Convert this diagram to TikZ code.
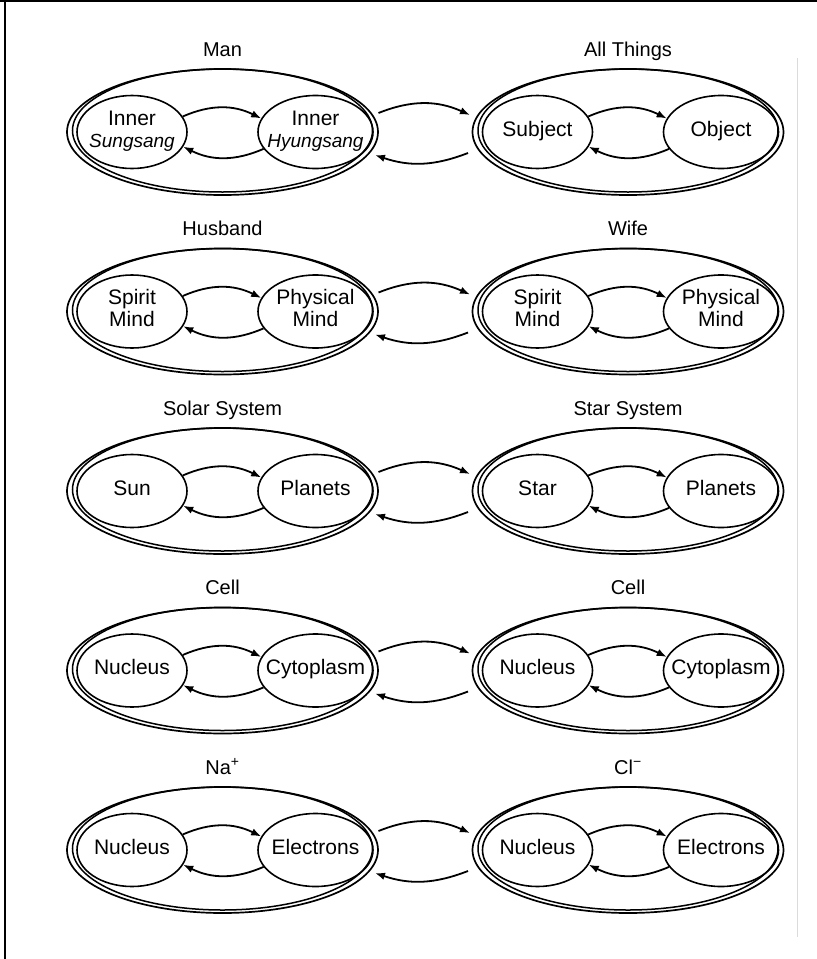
\documentclass[tikz,border=0pt]{standalone}
\usepackage{fontspec}
\setmainfont{Liberation Sans}
\usetikzlibrary{shapes.geometric,arrows.meta,calc}
\tikzset{
 outerell/.style={ellipse, draw, line width=1.7pt, minimum width=311pt, minimum height=126pt, inner sep=0pt},
 ringell/.style={ellipse, draw, line width=1.5pt, minimum width=300pt, minimum height=123pt, inner sep=0pt},
 inL/.style={ellipse, draw, line width=1.6pt, minimum width=110pt, minimum height=73pt, inner sep=0pt},
 inR/.style={inL, minimum width=115pt},
 intext/.style={align=center, inner sep=0pt, font=\fontsize{21}{22}\selectfont},
 lab/.style={anchor=base, inner sep=0pt, font=\fontsize{20}{22}\selectfont},
 arr/.style={-{Latex[length=10pt,width=7.5pt]}, line width=1.8pt},
 frameline/.style={line width=2.5pt},
}
\newcommand\pairgroup[6]{%
 \node[outerell] (#1o) at (#2,#3) {};
 \node[ringell] (#1r) at ($(#1o.center)+(0,1.5)$) {};
 \node[lab] (#1t) at ($(#1o.center)+(0,76)$) {#4};
 \node[inL] (#1a) at ($(#1o.center)+(-90.5,0)$) {};
 \node[inR] (#1b) at ($(#1o.center)+(93,0)$) {};
 \node[intext] (#1x) at (#1a.center) {#5};
 \node[intext] (#1y) at (#1b.center) {#6};
 \draw[arr] (#1a.17) to[bend left=25] (#1b.166);
 \draw[arr] (#1b.198) to[bend left=25] (#1a.-16);
}
\newcommand\linkgroups[2]{%
 \draw[arr] ($(#1o.center)+(156,19)$) to[bend left=23] ($(#2o.center)+(-158,17)$);
 \draw[arr] ($(#2o.center)+(-160,-21)$) to[bend left=20] ($(#1o.center)+(152.5,-23)$);
}
\newcommand\smallit[1]{{\fontsize{19}{22}\selectfont\textit{#1}}}
\begin{document}
\begin{tikzpicture}[x=1pt,y=1pt]
\useasboundingbox (0,0) rectangle (817,-959);
\fill[white] (0,0) rectangle (817,-959);
\draw[frameline] (5,0) -- (5,-959);
\draw[frameline] (0,-1) -- (817,-1);
\draw[red!20, line width=1pt] (797,-58) -- (797,-937);

\pairgroup{A}{222.5}{-132}{Man}{\strut Inner\\\strut\smallit{Sungsang}}{\strut Inner\\\strut\smallit{Hyungsang}}
\pairgroup{B}{628}{-132}{All Things}{\strut Subject}{\strut Object}
\linkgroups{A}{B}

\pairgroup{C}{222.5}{-311.5}{Husband}{\strut Spirit\\\strut Mind}{\strut Physical\\\strut Mind}
\pairgroup{D}{628}{-311.5}{Wife}{\strut Spirit\\\strut Mind}{\strut Physical\\\strut Mind}
\linkgroups{C}{D}

\pairgroup{E}{222.5}{-491}{Solar System}{\strut Sun}{\strut Planets}
\pairgroup{F}{628}{-491}{Star System}{\strut Star}{\strut Planets}
\linkgroups{E}{F}

\pairgroup{G}{222.5}{-670.5}{Cell}{\strut Nucleus}{\strut Cytoplasm}
\pairgroup{H}{628}{-670.5}{Cell}{\strut Nucleus}{\strut Cytoplasm}
\linkgroups{G}{H}

\pairgroup{I}{222.5}{-850}{Na\textsuperscript{+}}{\strut Nucleus}{\strut Electrons}
\pairgroup{J}{628}{-850}{Cl\textsuperscript{\char"2212}}{\strut Nucleus}{\strut Electrons}
\linkgroups{I}{J}
\end{tikzpicture}
\end{document}
